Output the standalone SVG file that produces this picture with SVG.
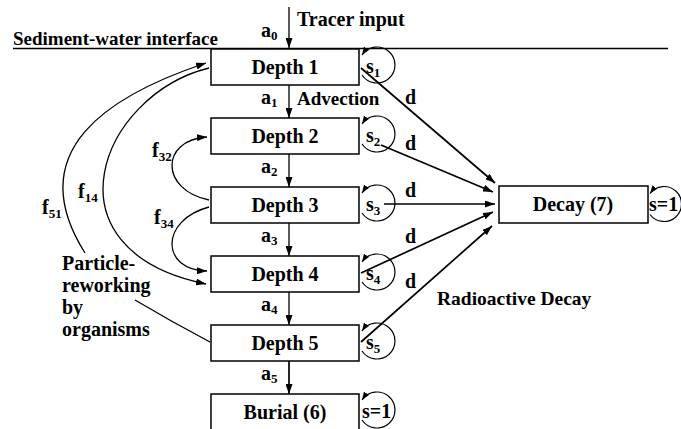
<svg xmlns="http://www.w3.org/2000/svg" width="681" height="429" viewBox="0 0 681 429" font-family="'Liberation Serif', 'DejaVu Serif', serif" font-weight="bold">
  <style>
    text { font-family: "Liberation Serif", "DejaVu Serif", serif; font-weight: 700; fill: #000; }
    .lbl { font-size: 20px; }
    .nodeText { font-size: 20px; text-anchor: middle; }
    .sub { font-size: 13px; }
    .box { fill: #fff; stroke: #000; stroke-width: 1.5; }
    .c { fill: none; stroke: #000; stroke-width: 1.3; marker-end: url(#ah); }
    .d { stroke-width: 1.7; }
    .loop { fill: none; stroke: #000; stroke-width: 1.2; marker-end: url(#ahs); }
    .plain { fill: none; stroke: #000; stroke-width: 1.3; }
  </style>
  <defs>
    <marker id="ah" markerUnits="userSpaceOnUse" markerWidth="10" markerHeight="7" refX="10" refY="3.5" orient="auto">
      <path d="M0,0 L10,3.5 L0,7 Z" fill="#000"/>
    </marker>
    <marker id="ahs" markerUnits="userSpaceOnUse" markerWidth="8" markerHeight="6" refX="8" refY="3" orient="auto">
      <path d="M0,0 L8,3 L0,6 Z" fill="#000"/>
    </marker>
  </defs>

  <rect width="681" height="429" fill="#fff"/>

  <!-- sediment-water interface -->
  <g id="interface">
    <line x1="13" y1="48.5" x2="668" y2="48.5" stroke="#000" stroke-width="1.5"/>
    <text class="lbl" x="13" y="45" style="font-size:19px">Sediment-water interface</text>
    <text class="lbl" x="297" y="26">Tracer input</text>
  </g>

  <!-- compartments -->
  <g id="depth1">
    <rect class="box" x="211" y="49" width="148" height="36"/>
    <text class="nodeText" x="285" y="73.5">Depth 1</text>
  </g>
  <g id="depth2">
    <rect class="box" x="211" y="118" width="148" height="36"/>
    <text class="nodeText" x="285" y="142.5">Depth 2</text>
  </g>
  <g id="depth3">
    <rect class="box" x="211" y="187" width="148" height="36"/>
    <text class="nodeText" x="285" y="211.5">Depth 3</text>
  </g>
  <g id="depth4">
    <rect class="box" x="211" y="256" width="148" height="36"/>
    <text class="nodeText" x="285" y="280.5">Depth 4</text>
  </g>
  <g id="depth5">
    <rect class="box" x="211" y="325" width="148" height="36"/>
    <text class="nodeText" x="285" y="349.5">Depth 5</text>
  </g>
  <g id="burial">
    <rect class="box" x="211" y="394" width="148" height="40"/>
    <text class="nodeText" x="285" y="418.5">Burial (6)</text>
  </g>
  <g id="decay">
    <rect class="box" x="499" y="186" width="149" height="37"/>
    <text class="nodeText" x="573" y="211">Decay (7)</text>
  </g>

  <!-- connectors -->
  <g id="connectors">
    <!-- advection down the column -->
    <line class="c" x1="289" y1="7" x2="289" y2="48"/>
    <line class="c" x1="289" y1="85" x2="289" y2="118"/>
    <line class="c" x1="289" y1="154" x2="289" y2="187"/>
    <line class="c" x1="289" y1="223" x2="289" y2="256"/>
    <line class="c" x1="289" y1="292" x2="289" y2="325"/>
    <line class="c" x1="289" y1="361" x2="289" y2="394" style="stroke-width:1.7"/>

    <!-- radioactive decay -->
    <line class="c d" x1="361" y1="68" x2="495" y2="183"/>
    <line class="c d" x1="381" y1="145" x2="493" y2="192"/>
    <line class="c d" x1="384" y1="204" x2="495" y2="204"/>
    <line class="c d" x1="361" y1="273" x2="493" y2="212"/>
    <line class="c d" x1="361" y1="342" x2="492" y2="226"/>

    <!-- particle reworking -->
    <path class="c" d="M209,200 C160,190 160,140 207,137"/>
    <path class="c" d="M209,207 C160,220 160,270 207,271"/>
    <path class="c" d="M209,68 C100,95 40,250 206,284"/>
    <path class="plain" d="M210,342 Q172,322 135,300"/>
    <path class="c" d="M85,253 C20,150 110,95 206,63"/>

    <!-- retention loops -->
    <path class="loop" d="M362,75 A18,18 0 1 0 362,55"/>
    <path class="loop" d="M362,144 A18,18 0 1 0 362,124"/>
    <path class="loop" d="M362,213 A18,18 0 1 0 362,193"/>
    <path class="loop" d="M362,282 A18,18 0 1 0 362,262"/>
    <path class="loop" d="M362,351 A18,18 0 1 0 362,331"/>
    <path class="loop" d="M362,420 A18,18 0 1 0 362,400"/>
    <path class="loop" d="M650,214.5 A17.5,17.5 0 1 0 650,193.5"/>
  </g>

  <!-- connector labels -->
  <g id="labels">
    <text class="lbl" x="261" y="37">a<tspan class="sub" dy="3">0</tspan></text>
    <text class="lbl" x="261" y="104">a<tspan class="sub" dy="3">1</tspan></text>
    <text class="lbl" x="297" y="105" style="font-size:19px">Advection</text>
    <text class="lbl" x="261" y="173">a<tspan class="sub" dy="3">2</tspan></text>
    <text class="lbl" x="261" y="242">a<tspan class="sub" dy="3">3</tspan></text>
    <text class="lbl" x="261" y="311">a<tspan class="sub" dy="3">4</tspan></text>
    <text class="lbl" x="261" y="380">a<tspan class="sub" dy="3">5</tspan></text>

    <text class="lbl" x="405" y="104">d</text>
    <text class="lbl" x="405" y="150">d</text>
    <text class="lbl" x="405" y="197">d</text>
    <text class="lbl" x="405" y="243">d</text>
    <text class="lbl" x="405" y="288">d</text>
    <text class="lbl" x="437" y="305" style="font-size:19.5px">Radioactive Decay</text>

    <text class="lbl" x="366" y="73">s<tspan class="sub" dy="4">1</tspan></text>
    <text class="lbl" x="366" y="142">s<tspan class="sub" dy="4">2</tspan></text>
    <text class="lbl" x="366" y="211">s<tspan class="sub" dy="4">3</tspan></text>
    <text class="lbl" x="366" y="280">s<tspan class="sub" dy="4">4</tspan></text>
    <text class="lbl" x="366" y="349">s<tspan class="sub" dy="4">5</tspan></text>
    <text class="lbl" x="362" y="418">s=1</text>
    <text class="lbl" x="649" y="211">s=1</text>

    <text class="lbl" x="152" y="157">f<tspan class="sub" dy="4">32</tspan></text>
    <text class="lbl" x="154" y="224">f<tspan class="sub" dy="4">34</tspan></text>
    <text class="lbl" x="78" y="198">f<tspan class="sub" dy="4">14</tspan></text>
    <text class="lbl" x="42" y="214">f<tspan class="sub" dy="4">51</tspan></text>

    <text class="lbl" x="62" y="270">Particle-</text>
    <text class="lbl" x="62" y="292">reworking</text>
    <text class="lbl" x="62" y="314">by</text>
    <text class="lbl" x="62" y="336">organisms</text>
  </g>
</svg>
